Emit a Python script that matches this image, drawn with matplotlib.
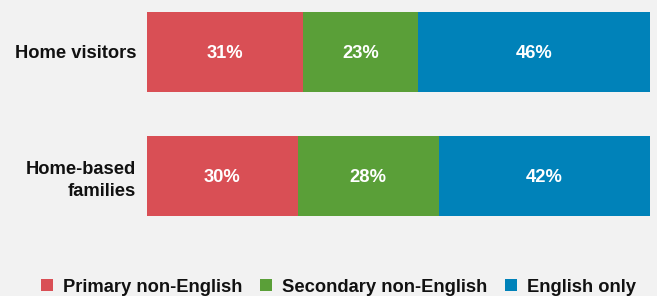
import matplotlib
matplotlib.use("Agg")
import matplotlib.pyplot as plt
from matplotlib.patches import Patch

categories = ["Home visitors", "Home-based\nfamilies"]
series_names = ["Primary non-English", "Secondary non-English", "English only"]
primary = [31, 30]
secondary = [23, 28]
english = [46, 42]
colors = ["#d94f55", "#5a9f38", "#0082b9"]

plt.rcParams['font.family'] = ['Liberation Sans', 'DejaVu Sans']
plt.rcParams['font.weight'] = 'bold'

W, H = 657, 296
FS = 13.2
fig = plt.figure(figsize=(W / 100, H / 100), dpi=100, facecolor="#f2f2f2")
ax = fig.add_axes([146.5 / W, (H - 216) / H, 503.5 / W, 204 / H])
ax.set_facecolor("#f2f2f2")

h = 80 / 124
ys = list(range(len(categories)))
left = [0] * len(categories)
for vals, c in zip([primary, secondary, english], colors):
    ax.barh(ys, vals, left=left, height=h, color=c, edgecolor="none")
    for y, l, v in zip(ys, left, vals):
        ax.text(l + v / 2, y + 0.01, f"{v}%", ha="center", va="center",
                color="white", fontsize=FS, fontweight="bold")
    left = [a + b for a, b in zip(left, vals)]

ax.set_xlim(0, 100)
ax.set_ylim(1 + h / 2, -h / 2)
ax.set_yticks(ys)
ax.set_yticklabels(categories, fontsize=FS, fontweight="bold", color="#111111",
                   linespacing=1.4)
ax.tick_params(axis="y", length=0, pad=7.5)
ax.set_xticks([])
for s in ax.spines.values():
    s.set_visible(False)

handles = [Patch(facecolor=c, edgecolor="none") for c in colors]
fig.legend(handles, series_names, loc="center", bbox_to_anchor=(338.5 / W, 1 - 287 / H),
           ncol=3, frameon=False, fontsize=FS, handlelength=0.65, handleheight=0.65,
           handletextpad=0.55, columnspacing=0.95, borderaxespad=0, borderpad=0,
           labelcolor="#111111")

fig.savefig("out.png", dpi=100, facecolor=fig.get_facecolor())
